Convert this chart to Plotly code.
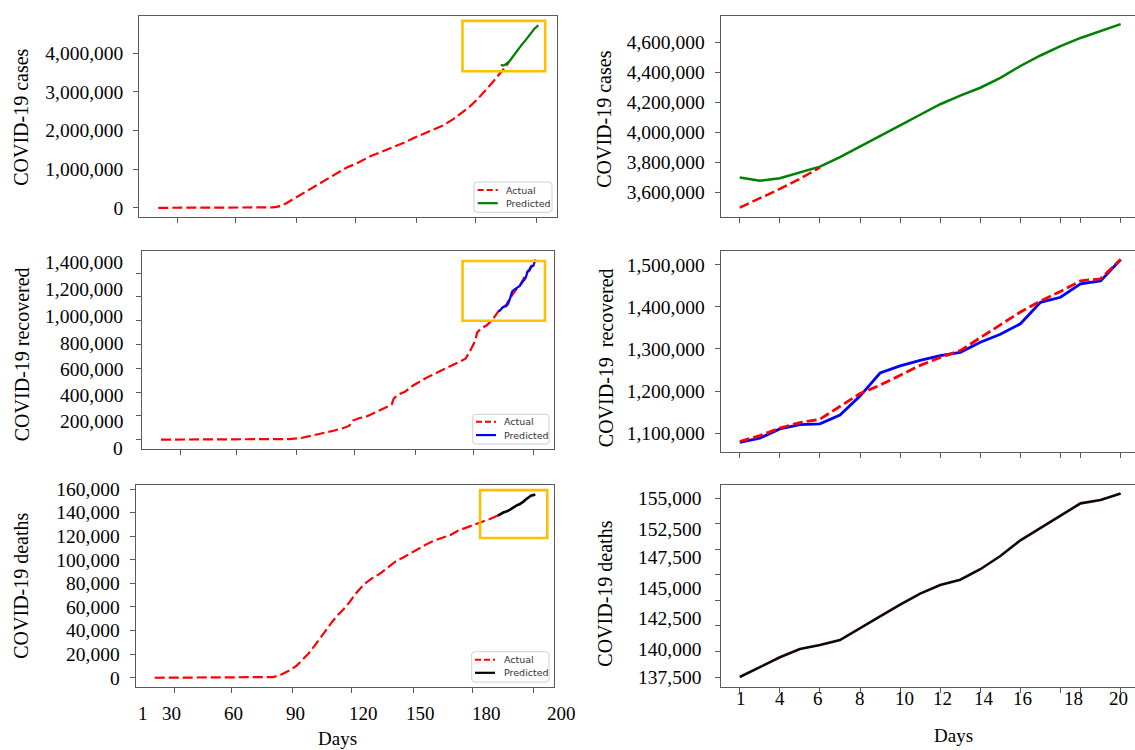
import plotly.graph_objects as go

W, H = 1135, 750

# ---------------- data ----------------
# left panels: day index since the first record (0 = first day)
case_days = [0, 30, 45, 52, 56, 58, 60, 62, 65, 68, 72, 76, 80, 84, 88, 92, 96, 100, 104,
             108, 112, 116, 120, 125, 130, 135, 140, 145, 150, 154, 158, 162, 166, 170, 172]
case_actual = [0, 0, 100, 2000, 6000, 12000, 25000, 45000, 120000, 210000, 330000, 460000,
               580000, 700000, 820000, 940000, 1050000, 1130000, 1240000, 1340000, 1420000,
               1500000, 1580000, 1690000, 1810000, 1920000, 2030000, 2140000, 2300000, 2450000,
               2610000, 2800000, 3020000, 3260000, 3380000]

rec_days = [0, 30, 50, 60, 66, 72, 78, 84, 89, 94, 97, 99, 102, 106, 110, 113, 117, 119, 120,
            122, 126, 130, 134, 138, 143, 148, 153, 157, 159, 161, 162, 163, 165, 168, 171]
rec_actual = [0, 0, 1000, 2000, 5000, 13000, 33000, 55000, 75000, 98000, 115000, 160000,
              180000, 195000, 225000, 244000, 280000, 298000, 345000, 375000, 405000, 455000,
              495000, 530000, 568000, 608000, 648000, 680000, 735000, 800000, 830000, 900000,
              935000, 962000, 1010000]

death_days = [0, 30, 50, 57, 60, 63, 66, 69, 72, 75, 78, 81, 84, 87, 90, 93, 96, 99, 102, 106,
              110, 114, 118, 122, 126, 130, 134, 138, 142, 146, 150, 154, 158, 162, 166, 170]
death_actual = [0, 0, 0, 100, 600, 1800, 4000, 6800, 10300, 15000, 20500, 27000, 34000, 41500,
                47500, 53500, 58500, 64500, 71500, 79000, 84000, 88000, 93500, 98500, 102000,
                106000, 109800, 113300, 116500, 118500, 121000, 124800, 127200, 129400, 132000,
                134600]

# 20-day forecast window (right panels), day 1 = left-panel day index 174
WINDOW_OFFSET = 173
window_days = list(range(1, 21))

case_actual_window = [3498000, 3560000, 3622000, 3690000, 3765000]          # days 1-5
case_pred = [3699000, 3677000, 3694000, 3732000, 3771000, 3835000, 3907000, 3978000,
             4046000, 4117000, 4187000, 4244000, 4297000, 4363000, 4442000, 4512000,
             4574000, 4629000, 4673000, 4721000]

rec_actual_window = [1080000, 1094000, 1112000, 1125000, 1133000, 1163000, 1194000, 1214000,
                     1237000, 1261000, 1280000, 1296000, 1327000, 1357000, 1388000, 1414000,
                     1437000, 1462000, 1467000, 1513000]
rec_pred = [1078000, 1088000, 1110000, 1120000, 1122000, 1143000, 1188000, 1243000, 1260000,
            1273000, 1284000, 1292000, 1316000, 1335000, 1360000, 1411000, 1423000, 1455000,
            1462000, 1513000]

death_pred = [137500, 138470, 139430, 140240, 140630, 141110, 142240, 143430, 144590, 145650,
              146490, 147010, 148040, 149330, 150870, 152100, 153290, 154480, 154810, 155450]

# ticks and labels
left_xticks = [10, 39, 70, 100, 131, 161, 192]
right_xticks = [1, 3, 5, 7, 9, 11, 13, 15, 17, 18, 20]
left_day_labels = ["1", "30", "60", "90", "120", "150", "180", "200"]
right_day_labels = ["1", "4", "6", "8", "10", "12", "14", "16", "18", "20"]

case_yticks_left = [0, 1000000, 2000000, 3000000, 4000000]
case_yticks_right = [3600000, 3800000, 4000000, 4200000, 4400000, 4600000]
rec_yticks_left = [0, 200000, 400000, 600000, 800000, 1000000, 1200000, 1400000]
rec_ylabels_left = ["1,400,000", "1,200,000", "1,000,000", "800,000", "600,000", "400,000",
                    "200,000", "0"]
rec_yticks_right = [1100000, 1200000, 1300000, 1400000, 1500000]
death_yticks_left = [0, 20000, 40000, 60000, 80000, 100000, 120000, 140000, 160000]
death_yticks_right = [137500, 140000, 142500, 145000, 147500, 150000, 152500, 155000]
death_ylabels_right = ["155,000", "152,500", "147,500", "145,000", "142,500", "140,000",
                       "137,500"]

names = ["Actual", "Predicted"]
y_titles = ["COVID-19 cases", "COVID-19 cases", "COVID-19 recovered",
            "COVID-19\u00a0 recovered", "COVID-19 deaths", "COVID-19 deaths"]
x_title = "Days"

# ---------------- styling / layout helpers ----------------
SERIF = "Liberation Serif, Times New Roman, serif"
SANS = "DejaVu Sans, sans-serif"
RED, GREEN, BLUE, BLACK = "#ff0000", "#008000", "#0000ff", "#000000"
YELLOW = "#ffc000"
AXC = "#5a5a5a"
DASH = "10px,4px"


def fx(p):
    return p / W


def fy(p):
    return 1 - p / H


# pixel boxes: (left, right, top, bottom)
boxes = {
    1: (139.3, 557.3, 10.0, 213.3),
    2: (720.7, 1135.0, 10.0, 213.3),
    3: (142.3, 554.0, 247.7, 447.3),
    4: (720.7, 1135.0, 247.7, 450.7),
    5: (135.7, 554.3, 484.3, 688.3),
    6: (720.7, 1135.0, 484.3, 688.3),
}
yranges = {
    1: [-238000, 4962000],
    2: [3435000, 4776000],
    3: [-74900, 1586000],
    4: [1055300, 1532900],
    5: [-7800, 163300],
    6: [136530, 156260],
}
LEFT_XRANGE = [-9.65, 202.65]
RIGHT_XRANGE = [0.05, 20.716]

fig = go.Figure()


def ax(i):
    return ("x" if i == 1 else f"x{i}"), ("y" if i == 1 else f"y{i}")


def add_line(i, x, y, name, color, width, dash=None):
    xa, ya = ax(i)
    fig.add_trace(go.Scatter(x=x, y=y, mode="lines", name=name, showlegend=False,
                             xaxis=xa, yaxis=ya,
                             line=dict(color=color, width=width, dash=dash)))


win_left = [WINDOW_OFFSET + d for d in window_days]

# Panel 1: cases (full)
add_line(1, case_days + win_left[:5], case_actual + case_actual_window, names[0], RED, 2.2, DASH)
add_line(1, win_left, case_pred, names[1], GREEN, 2.2)
# Panel 2: cases (window)
add_line(2, window_days, case_pred, names[1], GREEN, 2.5)
add_line(2, window_days[:5], case_actual_window, names[0], RED, 2.5, DASH)
# Panel 3: recovered (full)
add_line(3, rec_days + win_left, rec_actual + rec_actual_window, names[0], RED, 2.2, DASH)
add_line(3, win_left, rec_pred, names[1], BLUE, 2.2)
# Panel 4: recovered (window)
add_line(4, window_days, rec_pred, names[1], BLUE, 2.8)
add_line(4, window_days, rec_actual_window, names[0], RED, 2.8, DASH)
# Panel 5: deaths (full)
add_line(5, death_days + [win_left[0]], death_actual + [death_pred[0]], names[0], RED, 2.2, DASH)
add_line(5, win_left, death_pred, names[1], BLACK, 2.6)
# Panel 6: deaths (window)
add_line(6, window_days, death_pred, names[1], "#140606", 2.6)

tickfont = dict(family=SERIF, size=19.5, color="black")
layout_axes = {}
for i, (l, r, t, b) in boxes.items():
    left = i in (1, 3, 5)
    xkey = "xaxis" if i == 1 else f"xaxis{i}"
    ykey = "yaxis" if i == 1 else f"yaxis{i}"
    xa, ya = ax(i)
    layout_axes[xkey] = dict(
        domain=[fx(l), fx(r)], anchor=ya, range=LEFT_XRANGE if left else RIGHT_XRANGE,
        showgrid=False, zeroline=False, showline=True, linecolor=AXC, linewidth=1.3,
        mirror=True, ticks="outside", ticklen=5, tickcolor=AXC, tickwidth=1.2,
        tickvals=left_xticks if left else right_xticks, showticklabels=False)
    layout_axes[ykey] = dict(
        domain=[fy(b), fy(t)], anchor=xa, range=yranges[i],
        showgrid=False, zeroline=False, showline=True, linecolor=AXC, linewidth=1.3,
        mirror=left, ticks="outside", ticklen=5, tickcolor=AXC, tickwidth=1.2,
        tickformat=",d", tickfont=tickfont, ticklabelstandoff=6)

layout_axes["yaxis"]["tickvals"] = case_yticks_left
layout_axes["yaxis2"]["tickvals"] = case_yticks_right
layout_axes["yaxis3"]["tickvals"] = rec_yticks_left
layout_axes["yaxis3"]["showticklabels"] = False
layout_axes["yaxis4"]["tickvals"] = rec_yticks_right
layout_axes["yaxis5"]["tickvals"] = death_yticks_left
layout_axes["yaxis6"]["tickvals"] = death_yticks_right
layout_axes["yaxis6"]["showticklabels"] = False

annotations = []
shapes = []

# overlaid tick labels (as placed in the reference)
rec_label_py = [259.0, 286.7, 314.0, 341.0, 367.7, 394.0, 420.0, 447.3]
for txt, py in zip(rec_ylabels_left, rec_label_py):
    annotations.append(dict(x=fx(125), y=fy(py), xref="paper", yref="paper", text=txt,
                            showarrow=False, xanchor="right", yanchor="middle",
                            font=tickfont))
death_label_py = [498.3, 529.3, 557.3, 588.3, 619.3, 650.0, 678.3]
for txt, py in zip(death_ylabels_right, death_label_py):
    annotations.append(dict(x=fx(703), y=fy(py), xref="paper", yref="paper", text=txt,
                            showarrow=False, xanchor="right", yanchor="middle",
                            font=tickfont))
xfont = dict(family=SERIF, size=19, color="black")
left_day_px = [142.7, 171.0, 233.3, 295.7, 363.3, 420.7, 486.7, 561.7]
for txt, px in zip(left_day_labels, left_day_px):
    annotations.append(dict(x=fx(px), y=fy(715), xref="paper", yref="paper", text=txt,
                            showarrow=False, xanchor="center", yanchor="middle", font=xfont))
right_day_px = [740.7, 780.0, 818.3, 860.0, 904.0, 942.7, 984.3, 1022.7, 1073.3, 1118.3]
for txt, px in zip(right_day_labels, right_day_px):
    annotations.append(dict(x=fx(px), y=fy(700), xref="paper", yref="paper", text=txt,
                            showarrow=False, xanchor="center", yanchor="middle", font=xfont))

# axis titles
title_pos = [(21, 113), (604, 115), (22, 352), (606, 356), (21, 586), (605, 594)]
for txt, (px, py) in zip(y_titles, title_pos):
    annotations.append(dict(x=fx(px), y=fy(py), xref="paper", yref="paper", text=txt,
                            showarrow=False, textangle=-90, xanchor="center", yanchor="middle",
                            font=dict(family=SERIF, size=20, color="black")))
for px, py in [(337.3, 740), (953.3, 737)]:
    annotations.append(dict(x=fx(px), y=fy(py), xref="paper", yref="paper", text=x_title,
                            showarrow=False, xanchor="center", yanchor="middle",
                            font=dict(family=SERIF, size=19, color="black")))

# yellow zoom-window boxes (data coordinates)
zoom_boxes = [(1, 154.5, 196.5, 3530000, 4834000),
              (3, 155.5, 198.0, 1000000, 1502000),
              (5, 165.0, 199.1, 118500, 159100)]
for i, x0, x1, y0, y1 in zoom_boxes:
    xa, ya = ax(i)
    shapes.append(dict(type="rect", xref=xa, yref=ya, x0=x0, x1=x1, y0=y0, y1=y1,
                       line=dict(color=YELLOW, width=2.6), fillcolor="rgba(0,0,0,0)",
                       layer="above"))


# matplotlib-style legends
def rounded_rect(l, r, t, b, rad=3):
    x0, x1 = fx(l), fx(r)
    y0, y1 = fy(b), fy(t)
    rx, ry = rad / W, rad / H
    return (f"M {x0+rx},{y1} L {x1-rx},{y1} Q {x1},{y1} {x1},{y1-ry} "
            f"L {x1},{y0+ry} Q {x1},{y0} {x1-rx},{y0} L {x0+rx},{y0} "
            f"Q {x0},{y0} {x0},{y0+ry} L {x0},{y1-ry} Q {x0},{y1} {x0+rx},{y1} Z")


legends = [
    ((474.0, 552.0, 178.0, 208.5), 477.7, 497.7, 504.3, (186.0, 199.3), GREEN),
    ((472.7, 549.0, 412.7, 442.7), 476.0, 496.0, 502.3, (420.3, 433.7), BLUE),
    ((471.7, 549.0, 652.7, 683.3), 475.0, 495.0, 501.7, (660.7, 674.0), BLACK),
]
for (l, r, t, b), s0, s1, tx, rows, pcol in legends:
    shapes.append(dict(type="path", xref="paper", yref="paper", path=rounded_rect(l, r, t, b),
                       line=dict(color="#d0d0d0", width=1), fillcolor="rgba(255,255,255,0.85)",
                       layer="above"))
    shapes.append(dict(type="line", xref="paper", yref="paper", x0=fx(s0), x1=fx(s1),
                       y0=fy(rows[0]), y1=fy(rows[0]),
                       line=dict(color=RED, width=2, dash="6px,3px"), layer="above"))
    shapes.append(dict(type="line", xref="paper", yref="paper", x0=fx(s0), x1=fx(s1),
                       y0=fy(rows[1]), y1=fy(rows[1]),
                       line=dict(color=pcol, width=2.2), layer="above"))
    for txt, py in zip(names, rows):
        annotations.append(dict(x=fx(tx), y=fy(py), xref="paper", yref="paper", text=txt,
                                showarrow=False, xanchor="left", yanchor="middle",
                                font=dict(family=SANS, size=9.5, color="#333333")))

fig.update_layout(
    width=W, height=H, margin=dict(l=0, r=0, t=0, b=0),
    paper_bgcolor="white", plot_bgcolor="white", showlegend=False,
    annotations=annotations, shapes=shapes, **layout_axes)

fig.write_html("out.html")
